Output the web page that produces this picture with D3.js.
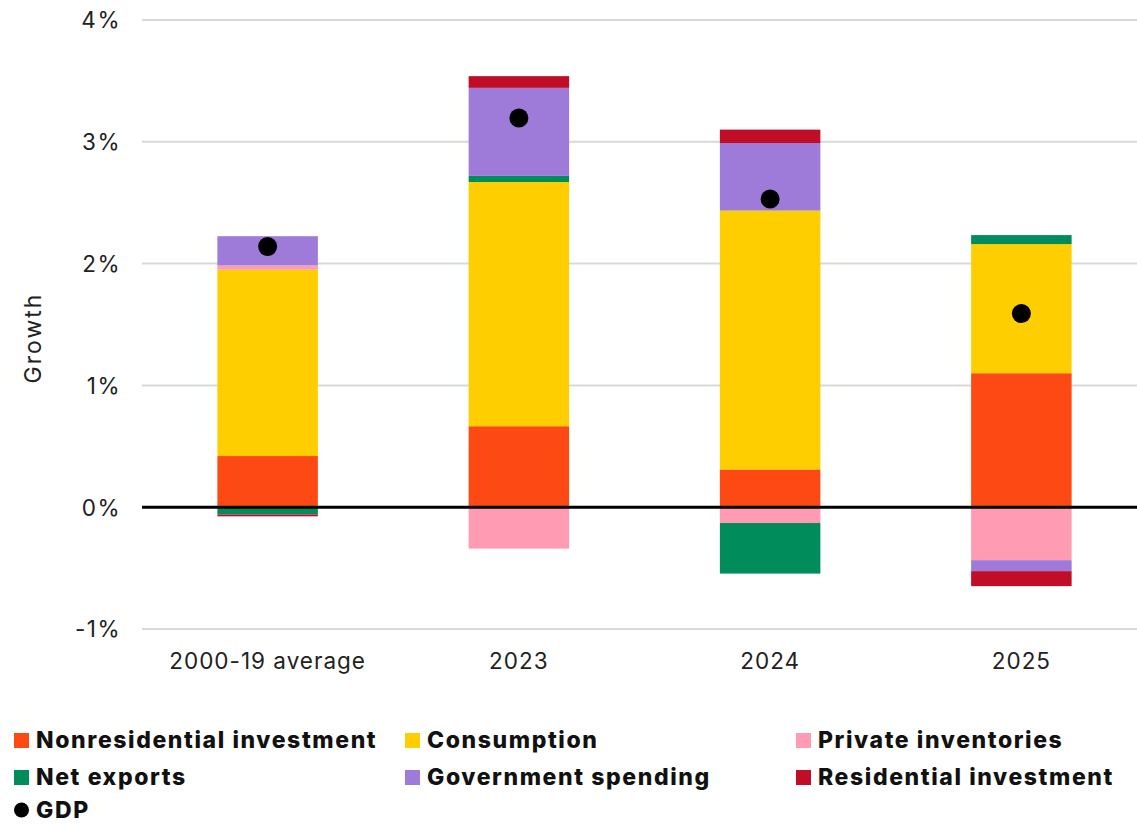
<!DOCTYPE html>
<html>
<head>
<meta charset="utf-8">
<script src="https://cdn.jsdelivr.net/npm/d3@7"></script>
<style>
  html, body { margin: 0; padding: 0; background: #fff; }
  svg { display: block; font-family: Inter, "Liberation Sans", sans-serif; }
</style>
</head>
<body>
<svg id="chart" width="1137" height="825"></svg>
<script>
// Contributions to real GDP growth, percentage points
const categories = ["2000-19 average", "2023", "2024", "2025"];
const seriesNames = ["Nonresidential investment", "Consumption", "Private inventories",
                     "Net exports", "Government spending", "Residential investment"];
const nonresidential = [0.42, 0.665, 0.31, 1.10];
const consumption    = [1.53, 2.005, 2.125, 1.06];
const inventories    = [0.035, -0.34, -0.13, -0.435];
const netExports     = [-0.06, 0.05, -0.415, 0.074];
const government     = [0.24, 0.723, 0.555, -0.09];
const residential    = [-0.015, 0.096, 0.11, -0.123];
const gdp            = [2.14, 3.195, 2.53, 1.59];
const yTicks = [-1, 0, 1, 2, 3, 4];
const colors = ["#FD4A15", "#FFCE00", "#FF9BB3", "#008C5B", "#9E7BD8", "#C20D29"];

const seriesValues = [nonresidential, consumption, inventories, netExports, government, residential];
const rows = categories.map((c, i) => {
  const r = { category: c };
  seriesNames.forEach((s, j) => { r[s] = seriesValues[j][i]; });
  return r;
});

const svg = d3.select("#chart");
const W = 1137;

const x = d3.scaleBand().domain(categories).range([142, 1147]).paddingInner(0.6).paddingOuter(0.3);
const y = d3.scaleLinear().domain([-1, 4]).range([629, 20]);

// gridlines
svg.append("g")
  .selectAll("line")
  .data(yTicks.filter(t => t !== 0))
  .join("line")
  .attr("x1", 142).attr("x2", W)
  .attr("y1", d => y(d)).attr("y2", d => y(d))
  .attr("stroke", "#d9d9d9").attr("stroke-width", 2);

// y axis tick labels
const yAxis = d3.axisLeft(y).tickValues(yTicks).tickSize(0).tickPadding(0)
  .tickFormat(d => d + "%");
svg.append("g")
  .attr("transform", "translate(121,0)")
  .call(yAxis)
  .call(g => g.select(".domain").remove())
  .selectAll("text")
  .attr("font-family", "Inter, sans-serif")
  .attr("font-size", 22.5)
  .attr("letter-spacing", 1.5)
  .attr("fill", "#222")
  .attr("dy", "0.35em");

// y axis title
svg.append("text")
  .attr("transform", `translate(41,338) rotate(-90)`)
  .attr("text-anchor", "middle")
  .attr("font-size", 23)
  .attr("letter-spacing", 2)
  .attr("fill", "#222")
  .text("Growth");

// stacked bars
const stack = d3.stack().keys(seriesNames).offset(d3.stackOffsetDiverging);
const stacked = stack(rows);

svg.append("g")
  .selectAll("g")
  .data(stacked)
  .join("g")
  .attr("fill", (d, i) => colors[i])
  .selectAll("rect")
  .data(d => d)
  .join("rect")
  .attr("x", d => x(d.data.category))
  .attr("width", x.bandwidth())
  .attr("y", d => y(Math.max(d[0], d[1])))
  .attr("height", d => Math.abs(y(d[0]) - y(d[1])));

// zero line
svg.append("line")
  .attr("x1", 142).attr("x2", W)
  .attr("y1", y(0)).attr("y2", y(0))
  .attr("stroke", "#000").attr("stroke-width", 3);

// GDP dots
svg.append("g")
  .selectAll("circle")
  .data(gdp)
  .join("circle")
  .attr("cx", (d, i) => x(categories[i]) + x.bandwidth() / 2)
  .attr("cy", d => y(d))
  .attr("r", 9.5)
  .attr("fill", "#000");

// x axis labels
const xAxis = d3.axisBottom(x).tickSize(0).tickPadding(0);
svg.append("g")
  .attr("transform", "translate(0,661)")
  .call(xAxis)
  .call(g => g.select(".domain").remove())
  .selectAll("text")
  .attr("font-family", "Inter, sans-serif")
  .attr("font-size", 22.5)
  .attr("letter-spacing", 1)
  .attr("fill", "#222")
  .attr("dy", "0.35em");

// legend
const legendItems = [
  { name: "Nonresidential investment", color: colors[0], col: 0, row: 0 },
  { name: "Consumption", color: colors[1], col: 1, row: 0 },
  { name: "Private inventories", color: colors[2], col: 2, row: 0 },
  { name: "Net exports", color: colors[3], col: 0, row: 1 },
  { name: "Government spending", color: colors[4], col: 1, row: 1 },
  { name: "Residential investment", color: colors[5], col: 2, row: 1 },
  { name: "GDP", color: "#000", col: 0, row: 2, dot: true }
];
const colX = [14, 405, 796];
const rowY = [740, 777, 810];
const lg = svg.append("g").selectAll("g").data(legendItems).join("g")
  .attr("transform", d => `translate(${colX[d.col]},${rowY[d.row]})`);
lg.filter(d => !d.dot).append("rect")
  .attr("x", 0).attr("y", -7).attr("width", 15).attr("height", 15)
  .attr("fill", d => d.color);
lg.filter(d => d.dot).append("circle")
  .attr("cx", 7.5).attr("cy", 0).attr("r", 7.5)
  .attr("fill", "#000");
lg.append("text")
  .attr("x", 22)
  .attr("dy", "0.36em")
  .attr("font-size", 23)
  .attr("font-weight", 800)
  .attr("letter-spacing", 1.6)
  .attr("fill", "#111")
  .text(d => d.name);
</script>
</body>
</html>
